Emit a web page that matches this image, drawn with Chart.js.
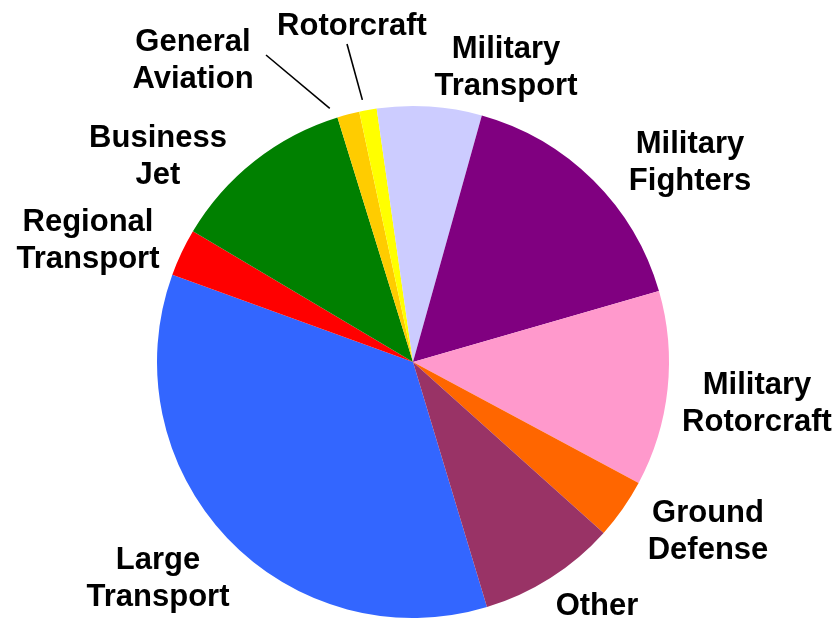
<!DOCTYPE html>
<html>
<head>
<meta charset="utf-8">
<script src="https://cdn.jsdelivr.net/npm/chart.js@4.4.1/dist/chart.umd.min.js"></script>
<style>
    html, body { margin: 0; padding: 0; background: #fff; }
    canvas { display: block; }
</style>
</head>
<body>
<canvas id="pie" width="838" height="618"></canvas>
<script>
// data (share of market, %), clockwise from Large Transport

const categories = [
    'Large Transport', 'Regional Transport', 'Business Jet', 'General Aviation', 'Rotorcraft',
    'Military Transport', 'Military Fighters', 'Military Rotorcraft', 'Ground Defense', 'Other'
];
const shares = [35.2, 3.0, 11.7, 1.4, 1.1, 6.6, 16.2, 12.3, 3.8, 8.7];

// styling / layout

const sliceColors = [
    '#3366FF', '#FF0000', '#008000', '#FFCC00', '#FFFF00',
    '#CCCCFF', '#800080', '#FF99CC', '#FF6600', '#993366'
];
const labelLines = [
    ['Large', 'Transport'], ['Regional', 'Transport'], ['Business', 'Jet'], ['General', 'Aviation'], ['Rotorcraft'],
    ['Military', 'Transport'], ['Military', 'Fighters'], ['Military', 'Rotorcraft'], ['Ground', 'Defense'], ['Other']
];
// label centre relative to the pie centre
const labelOffset = [
    [-255, 214], [-325, -124], [-255, -208], [-220, -304], [-61, -338],
    [93, -297], [277, -202], [344, 39], [295, 167], [184, 242]
];
// leader line: start relative to the label centre, and where along the slice it points (0 = start, 1 = end)
const leaderStart = [null, null, null, [73, -3], [-5, 20], null, null, null, null, null];
const leaderAlong = [0, 0, 0, -0.2, 0.3, 0, 0, 0, 0, 0];

const labelFont = 'bold 31px "Liberation Sans", Arial, sans-serif';
const lineGap = 37;

const sliceLabels = {
    id: 'sliceLabels',
    afterDatasetsDraw(chart){
        const ctx = chart.ctx;
        const meta = chart.getDatasetMeta(0);
        ctx.save();
        ctx.font = labelFont;
        ctx.fillStyle = '#000';
        ctx.strokeStyle = '#000';
        ctx.lineWidth = 1.6;
        ctx.textAlign = 'center';
        ctx.textBaseline = 'alphabetic';
        meta.data.forEach((arc, i) => {
            const p = arc.getProps(['x', 'y', 'startAngle', 'endAngle', 'outerRadius'], true);
            const lx = p.x + labelOffset[i][0];
            const ly = p.y + labelOffset[i][1];
            const lines = labelLines[i];
            lines.forEach((t, j) => {
                const yy = ly + (j - (lines.length - 1) / 2) * lineGap + 11;
                ctx.fillText(t, lx, yy);
            });
            if(leaderStart[i]){
                const a = p.startAngle + (p.endAngle - p.startAngle) * leaderAlong[i];
                const r = p.outerRadius + 11;
                ctx.beginPath();
                ctx.moveTo(lx + leaderStart[i][0], ly + leaderStart[i][1]);
                ctx.lineTo(p.x + Math.cos(a) * r, p.y + Math.sin(a) * r);
                ctx.stroke();
            }
        });
        ctx.restore();
    }
};

new Chart('pie', {
    type: 'pie',
    data: {
        labels: categories,
        datasets: [{
            data: shares,
            backgroundColor: sliceColors,
            borderWidth: 0,
            hoverOffset: 0
        }]
    },
    options: {
        responsive: false,
        animation: false,
        rotation: 163.2,
        layout: {
            padding: {top: 106, bottom: 0, left: 0, right: 12}
        },
        plugins: {
            legend: {display: false},
            tooltip: {enabled: false}
        }
    },
    plugins: [sliceLabels]
});
</script>
</body>
</html>
